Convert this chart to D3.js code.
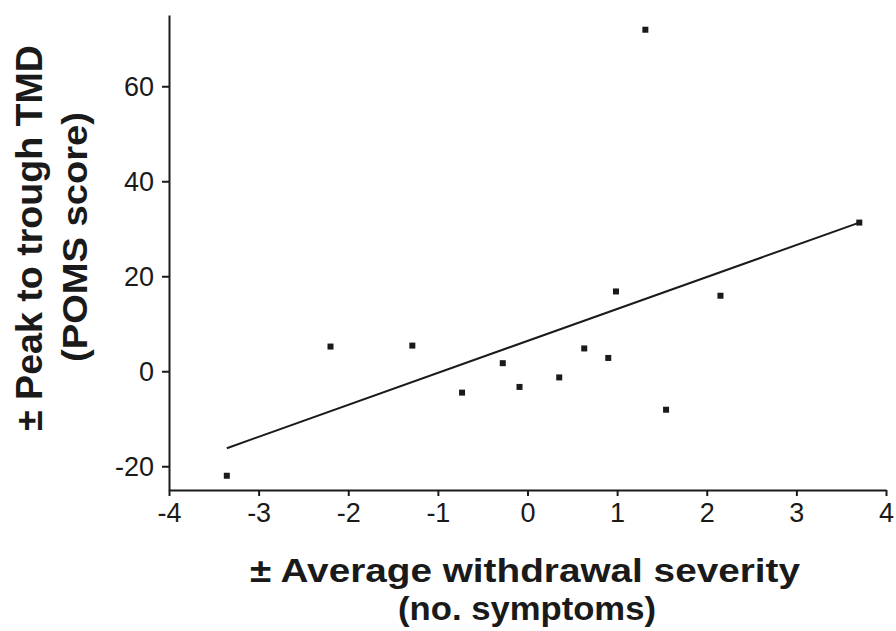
<!DOCTYPE html>
<html>
<head>
<meta charset="utf-8">
<script src="https://cdn.jsdelivr.net/npm/d3@7"></script>
<style>
  body { margin: 0; background: #fff; }
  svg { display: block; }
  text { font-family: "Liberation Sans", Arial, sans-serif; fill: #1a1a1a; }
</style>
</head>
<body>
<div id="chart"></div>
<script>
// Data
const withdrawal = [-3.355, -2.198, -1.285, -0.730, -0.276, -0.089, 0.354, 0.633, 0.901, 0.987, 1.315, 1.546, 2.153, 3.702];
const tmd        = [-22.0, 5.2, 5.4, -4.5, 1.7, -3.3, -1.3, 4.8, 2.8, 16.8, 71.9, -8.1, 15.9, 31.3];

// Fitted line end points, as drawn
const fitX = [-3.355, 3.702];
const fitY = [-16.2, 31.3];

const xTicks = [-4, -3, -2, -1, 0, 1, 2, 3, 4];
const yTicks = [-20, 0, 20, 40, 60];

const config = {
    width: 896,
    height: 631,
    plot: { left: 169, right: 886, top: 15, bottom: 490 },
    ink: "#1a1a1a"
};

const svg = d3.select("#chart").append("svg")
    .attr("width", config.width)
    .attr("height", config.height);

const x = d3.scaleLinear().domain([-4, 4]).range([config.plot.left, config.plot.right]);
const y = d3.scaleLinear().domain([-25, 75]).range([config.plot.bottom, config.plot.top]);

// plain hyphen for negatives, like the original
const fmt = d => String(d);

// X axis
const xAxis = svg.append("g")
    .attr("transform", `translate(0,${config.plot.bottom})`)
    .call(d3.axisBottom(x).tickValues(xTicks).tickFormat(fmt).tickSize(6).tickSizeOuter(0).tickPadding(7));

// Y axis
const yAxis = svg.append("g")
    .attr("transform", `translate(${config.plot.left},0)`)
    .call(d3.axisLeft(y).tickValues(yTicks).tickFormat(fmt).tickSize(7).tickSizeOuter(0).tickPadding(8));

[xAxis, yAxis].forEach(ax => {
    ax.select(".domain").attr("stroke", config.ink).attr("stroke-width", 2);
    ax.selectAll(".tick line").attr("stroke", config.ink).attr("stroke-width", 2);
    ax.selectAll(".tick text")
        .attr("fill", config.ink)
        .style("font-size", "27px")
        .style("font-family", "'Liberation Sans', Arial, sans-serif");
});
yAxis.selectAll(".tick text").attr("dy", "0.35em");

// Fit line
const fit = fitX.map((d, i) => [d, fitY[i]]);
svg.append("path")
    .datum(fit)
    .attr("fill", "none")
    .attr("stroke", config.ink)
    .attr("stroke-width", 2)
    .attr("d", d3.line().x(d => x(d[0])).y(d => y(d[1])));

// Points
const pts = withdrawal.map((d, i) => ({ x: d, y: tmd[i] }));
const s = 6;
svg.append("g").selectAll("rect")
    .data(pts)
    .enter()
    .append("rect")
    .attr("x", d => x(d.x) - s / 2)
    .attr("y", d => y(d.y) - s / 2)
    .attr("width", s)
    .attr("height", s)
    .attr("fill", config.ink);

// Axis titles
const titleStyle = (sel, size) => sel
    .attr("text-anchor", "middle")
    .attr("font-weight", "bold")
    .attr("lengthAdjust", "spacingAndGlyphs")
    .style("font-size", size + "px");

svg.append("text").call(titleStyle, 34)
    .attr("x", 525).attr("y", 582)
    .attr("textLength", 550)
    .text("± Average withdrawal severity");

svg.append("text").call(titleStyle, 34)
    .attr("x", 527).attr("y", 620)
    .attr("textLength", 258)
    .text("(no. symptoms)");

svg.append("text").call(titleStyle, 37)
    .attr("transform", "translate(42,238) rotate(-90)")
    .attr("textLength", 386)
    .text("± Peak to trough TMD");

svg.append("text").call(titleStyle, 35)
    .attr("transform", "translate(87,237) rotate(-90)")
    .attr("textLength", 250)
    .text("(POMS score)");
</script>
</body>
</html>
